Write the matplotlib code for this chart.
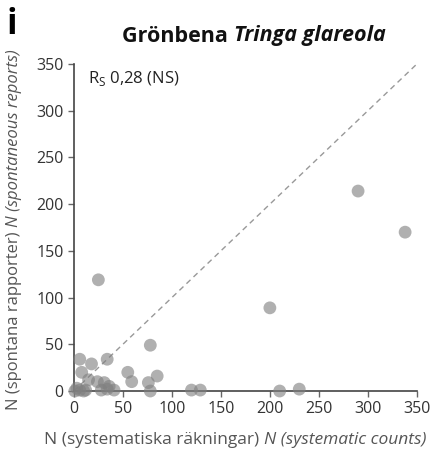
import matplotlib
matplotlib.use("Agg")
import matplotlib.pyplot as plt

plt.rcParams['font.family'] = ['Open Sans', 'DejaVu Sans']
plt.rcParams['mathtext.fontset'] = 'custom'
plt.rcParams['mathtext.rm'] = 'Open Sans'

# systematic counts vs spontaneous reports
systematic = [6, 18, 34, 8, 15, 24, 31, 36, 41, 28, 34, 1, 3, 6, 10, 12,
              25, 55, 59, 85, 76, 78, 78, 120, 129, 200, 210, 230, 290, 338]
spontaneous = [34, 29, 34, 20, 12, 10, 9, 5, 1, 1, 2, 0, 3, 1, 0, 1,
               119, 20, 10, 16, 9, 49, 0, 1, 1, 89, 0, 2, 214, 170]
ticks = [0, 50, 100, 150, 200, 250, 300, 350]


def two_part(fig, x, y, first, second, rot=0, **kw):
    # normal text followed by italic text, centred on (x, y) in pixels
    r = fig.canvas.get_renderer()
    t1 = fig.text(0, 0, first, rotation=rot, **kw)
    t2 = fig.text(0, 0, second, rotation=rot, fontstyle='italic', **kw)
    b1 = t1.get_window_extent(r)
    b2 = t2.get_window_extent(r)
    W, H = fig.bbox.width, fig.bbox.height
    if rot == 0:
        total = b1.width + b2.width
        x0 = x - total / 2
        t1.set_position((x0 / W, 1 - y / H))
        t2.set_position(((x0 + b1.width) / W, 1 - y / H))
        t1.set_ha('left'); t2.set_ha('left')
    else:
        total = b1.height + b2.height
        y0 = (H - y) - total / 2
        t1.set_position((x / W, y0 / H))
        t2.set_position((x / W, (y0 + b1.height) / H))
        t1.set_va('bottom'); t2.set_va('bottom')
    return t1, t2


fig = plt.figure(figsize=(4.32, 4.57), dpi=100)
ax = fig.add_axes([0.171, 0.1444, 0.794, 0.7156])

ax.plot([0, 350], [0, 350], linestyle=(0, (4, 3)), color='#999999', lw=1)
ax.scatter(systematic, spontaneous, s=85, color='#808080', alpha=0.62,
           edgecolors='none', clip_on=False, zorder=3)

ax.set_xlim(0, 350)
ax.set_ylim(0, 350)
ax.set_xticks(ticks)
ax.set_yticks(ticks)
for s in ['top', 'right']:
    ax.spines[s].set_visible(False)
for s in ['left', 'bottom']:
    ax.spines[s].set_color('#444444')
    ax.spines[s].set_linewidth(1.2)
ax.tick_params(colors='#666666', labelcolor='#333333', labelsize=11.5,
               length=4, width=1)

ax.text(0.04, 0.985, r'R$_\mathrm{S}$ 0,28 (NS)', transform=ax.transAxes,
        fontsize=12, va='top', ha='left', color='#222222')

two_part(fig, 235, 440, 'N (systematiska räkningar) ', 'N (systematic counts)',
         fontsize=12.5, color='#555555', va='center')
two_part(fig, 14, 230, 'N (spontana rapporter) ', 'N (spontaneous reports)',
         rot=90, fontsize=12, color='#555555', ha='center')
two_part(fig, 254, 36, 'Grönbena ', 'Tringa glareola',
         fontsize=15.5, fontweight='bold', color='#111111', va='center')

fig.text(0.028, 0.945, 'i', fontsize=25, fontweight='bold', ha='center',
         va='center')

fig.savefig('out.png', dpi=100)
